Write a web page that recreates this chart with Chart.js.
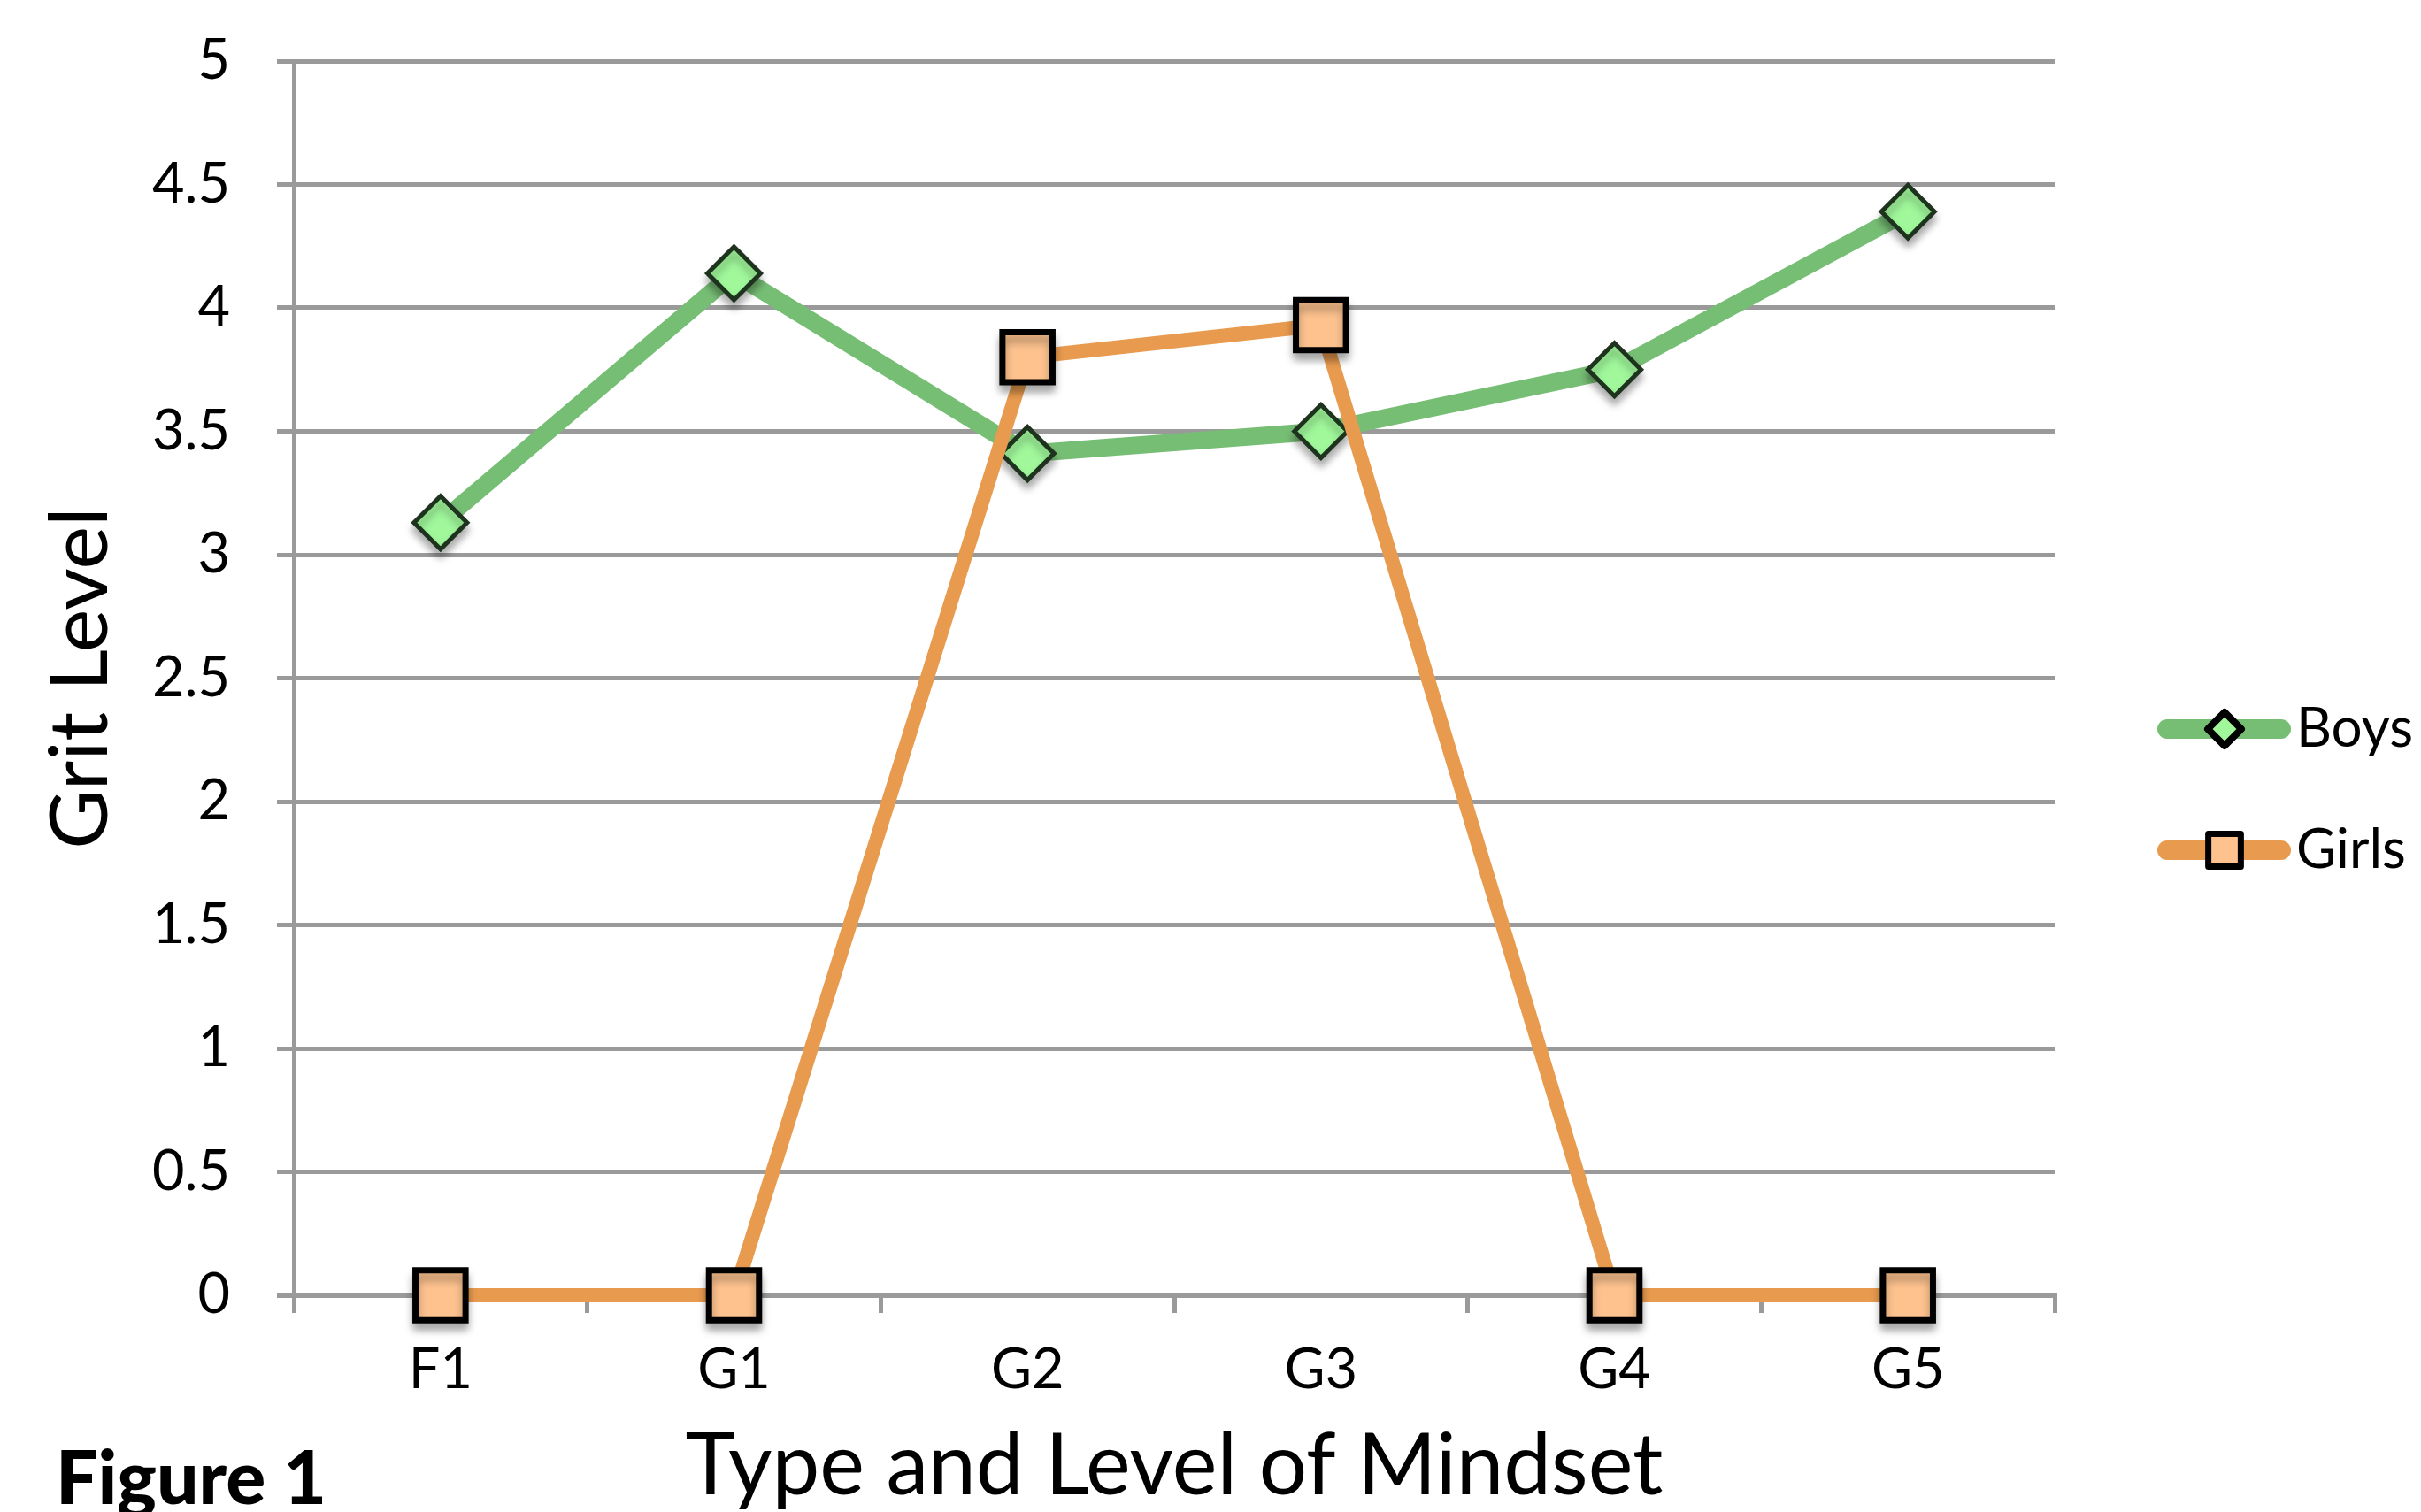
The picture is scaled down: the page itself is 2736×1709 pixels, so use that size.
<!DOCTYPE html>
<html>
<head>
<meta charset="utf-8">
<script src="https://cdn.jsdelivr.net/npm/chart.js@4/dist/chart.umd.min.js"></script>
<style>
  html, body { margin: 0; padding: 0; background: #ffffff; }
  #wrap { width: 2736px; height: 1709px; position: relative; }
</style>
</head>
<body>
<div id="wrap"><canvas id="chart" width="2736" height="1709"></canvas></div>
<script>
// Grit level by type and level of mindset
const categories = ['F1', 'G1', 'G2', 'G3', 'G4', 'G5'];
const boysValues = [3.13, 4.14, 3.41, 3.50, 3.75, 4.39];
const girlsValues = [0, 0, 3.80, 3.93, 0, 0];
const seriesNames = ['Boys', 'Girls'];
const yMin = 0;
const yMax = 5;
const yStep = 0.5;

const GRID = '#9a9a9a';
const FONT = 'Lato';

// Soft drop shadow under each marker (the lines stay flat)
const markerShadow = {
  id: 'markerShadow',
  beforeDatasetDraw(chart, args) {
    args.meta.data.forEach(pt => {
      if (pt.__shadowed) return;
      const base = pt.draw;
      pt.draw = function (ctx, area) {
        ctx.save();
        ctx.shadowColor = 'rgba(0,0,0,0.30)';
        ctx.shadowBlur = 10;
        ctx.shadowOffsetY = 8;
        base.call(this, ctx, area);
        ctx.restore();
      };
      pt.__shadowed = true;
    });
  }
};

// Legend (line sample + marker + name) and the figure caption
const sideLegend = {
  id: 'sideLegend',
  afterDraw(chart) {
    const ctx = chart.ctx;
    const rows = [824, 961];
    chart.data.datasets.forEach((ds, i) => {
      const y = rows[i];
      ctx.save();
      ctx.strokeStyle = ds.borderColor;
      ctx.lineWidth = 22;
      ctx.lineCap = 'round';
      ctx.beginPath();
      ctx.moveTo(2449, y);
      ctx.lineTo(2578, y);
      ctx.stroke();
      ctx.fillStyle = ds.pointBackgroundColor;
      ctx.strokeStyle = '#000000';
      ctx.lineWidth = ds.legendBorder;
      ctx.lineJoin = 'round';
      Chart.helpers.drawPoint(ctx, {
        pointStyle: ds.pointStyle, rotation: 0,
        radius: ds.legendRadius, borderWidth: ds.legendBorder
      }, 2514, y);
      ctx.fillStyle = '#000000';
      ctx.font = '62px ' + FONT;
      ctx.textAlign = 'left';
      ctx.textBaseline = 'middle';
      ctx.fillText(ds.label, 2595, y);
      ctx.restore();
    });

    ctx.save();
    ctx.fillStyle = '#000000';
    ctx.font = '900 84px ' + FONT;
    ctx.textAlign = 'left';
    ctx.textBaseline = 'alphabetic';
    ctx.fillText('Figure 1', 63, 1700);
    ctx.restore();
  }
};

new Chart(document.getElementById('chart'), {
  type: 'line',
  data: {
    labels: categories,
    datasets: [
      {
        label: seriesNames[0],
        data: boysValues,
        order: 1,
        borderColor: '#77be75',
        borderWidth: 20,
        borderJoinStyle: 'round',
        borderCapStyle: 'round',
        pointStyle: 'rectRot',
        pointRadius: 30,
        pointBorderWidth: 5,
        pointBorderColor: '#1d331d',
        pointBackgroundColor: '#a0f89b',
        legendRadius: 19,
        legendBorder: 8,
        fill: false,
        tension: 0,
        clip: false
      },
      {
        label: seriesNames[1],
        data: girlsValues,
        order: 0,
        borderColor: '#e89b4f',
        borderWidth: 16,
        borderJoinStyle: 'round',
        borderCapStyle: 'round',
        pointStyle: 'rect',
        pointRadius: 40,
        pointBorderWidth: 7,
        pointBorderColor: '#000000',
        pointBackgroundColor: '#fdc28e',
        legendRadius: 26,
        legendBorder: 7,
        fill: false,
        tension: 0,
        clip: false
      }
    ]
  },
  options: {
    responsive: false,
    animation: false,
    devicePixelRatio: 1,
    events: [],
    layout: { autoPadding: false, padding: { left: 0, top: 69, right: 414, bottom: 0 } },
    plugins: {
      legend: { display: false },
      tooltip: { enabled: false }
    },
    scales: {
      x: {
        type: 'category',
        offset: true,
        grid: {
          offset: true,
          drawOnChartArea: false,
          drawTicks: true,
          tickLength: 20,
          color: GRID,
          lineWidth: 5
        },
        border: { display: true, color: GRID, width: 5 },
        ticks: {
          font: { family: FONT, size: 63 },
          color: '#000000',
          padding: 27,
          maxRotation: 0,
          autoSkip: false
        },
        title: {
          display: true,
          text: 'Type and Level of Mindset',
          font: { family: FONT, size: 96, lineHeight: 1 },
          color: '#000000',
          padding: { top: 0, bottom: 3 }
        },
        afterFit(scale) { scale.height = 245; }
      },
      y: {
        min: yMin,
        max: yMax,
        ticks: {
          stepSize: yStep,
          font: { family: FONT, size: 63 },
          color: '#000000',
          padding: 53,
          callback: v => String(v)
        },
        grid: { color: GRID, lineWidth: 5, tickLength: 19 },
        border: { display: true, color: GRID, width: 5 },
        title: {
          display: true,
          text: 'Grit Level',
          font: { family: FONT, size: 92, lineHeight: 1 },
          color: '#000000',
          padding: { top: 45, bottom: 0 }
        },
        afterFit(scale) {
          scale.width = 332;
          scale.paddingTop = 0;
          scale.paddingBottom = 0;
        }
      }
    }
  },
  plugins: [markerShadow, sideLegend]
});
</script>
</body>
</html>
